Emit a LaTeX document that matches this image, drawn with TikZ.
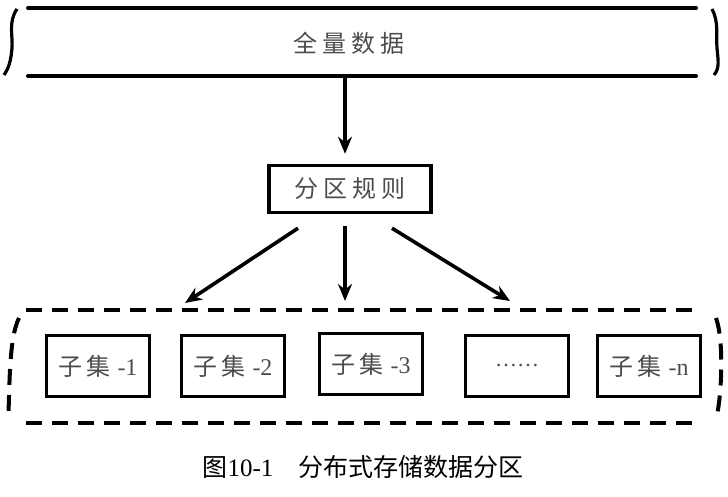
\documentclass[tikz,border=0pt]{standalone}
\usepackage{fontspec}
\setmainfont{Liberation Serif}
\newfontfamily\cjk{Noto Sans CJK SC}
\usetikzlibrary{arrows.meta}
\tikzset{
  ink/.style={line width=4pt, draw=black, line cap=round},
  arr/.style={line width=3.6pt, -{Stealth[length=17pt,width=14pt]}},
  sbox/.style={draw=black, line width=3.4pt, minimum width=103pt, minimum height=61pt, inner sep=0pt},
  lbl/.style={text=black!70, font=\cjk\fontsize{24}{26}\selectfont},
  dsh/.style={line width=4pt, dash pattern=on 16pt off 10pt},
}
\begin{document}
\begin{tikzpicture}[x=1pt,y=-1pt]
\useasboundingbox (0,0) rectangle (728,497);
% top band
\coordinate (tl1) at (28,8); \coordinate (tr1) at (696,8);
\coordinate (tl2) at (28,76); \coordinate (tr2) at (696,76);
\draw[ink] (tl1) -- (tr1);
\draw[ink] (tl2) -- (tr2);
\draw[line width=3.2pt] (17,9) .. controls (8,22) and (13,36) .. (12,48) .. controls (11,60) and (9,68) .. (4,75);
\draw[line width=3.2pt] (712,9) .. controls (719,22) and (716,36) .. (717,48) .. controls (718,60) and (720,68) .. (714,75);
\node[lbl] (all) at (349,43) {全\hspace{5pt}量\hspace{5pt}数\hspace{5pt}据};
\coordinate (allb) at (345,78);
% rule box
\node[sbox, minimum width=162pt, minimum height=47pt] (rule) at (350,189) {};
\node[lbl] at (rule) {分\hspace{5pt}区\hspace{5pt}规\hspace{5pt}则};
\draw[arr] (allb) -- ([yshift=10pt]rule.north -| allb);
% dashed container
\draw[dsh] (26,310) -- (692,310);
\draw[dsh] (26,423) -- (692,423);
\draw[dsh] (19,318) .. controls (8,340) and (10,395) .. (8,420);
\draw[dsh] (716,318) .. controls (724,340) and (722,395) .. (716,420);
% subsets
\node[sbox] (s1) at (98,366) {};
\node[sbox] (s2) at (233,366) {};
\node[sbox] (s3) at (371,364) {};
\node[sbox] (s4) at (517,366) {};
\node[sbox] (s5) at (649,366) {};
\node[lbl] at (s1) {子\hspace{4pt}集\hspace{7pt}\textrm{-1}};
\node[lbl] at (s2) {子\hspace{4pt}集\hspace{7pt}\textrm{-2}};
\node[lbl] at (s3) {子\hspace{4pt}集\hspace{7pt}\textrm{-3}};
\node[text=black!70, font=\fontsize{22}{24}\selectfont] at (s4) {……};
\node[lbl] at (s5) {子\hspace{4pt}集\hspace{7pt}\textrm{-n}};
% arrows from rule
\coordinate (a1) at (185,303);
\coordinate (a2) at (345,301);
\coordinate (a3) at (510,301);
\draw[arr] ([xshift=-52pt,yshift=-14pt]rule.south) -- (a1);
\draw[arr] ([xshift=-5pt,yshift=-12pt]rule.south) -- (a2);
\draw[arr] ([xshift=42pt,yshift=-14pt]rule.south) -- (a3);
% caption
\node[font=\fontsize{25}{28}\selectfont] (cap) at (363,467) {{\cjk 图}10-1\hspace{1em}{\cjk 分布式存储数据分区}};
\end{tikzpicture}
\end{document}
